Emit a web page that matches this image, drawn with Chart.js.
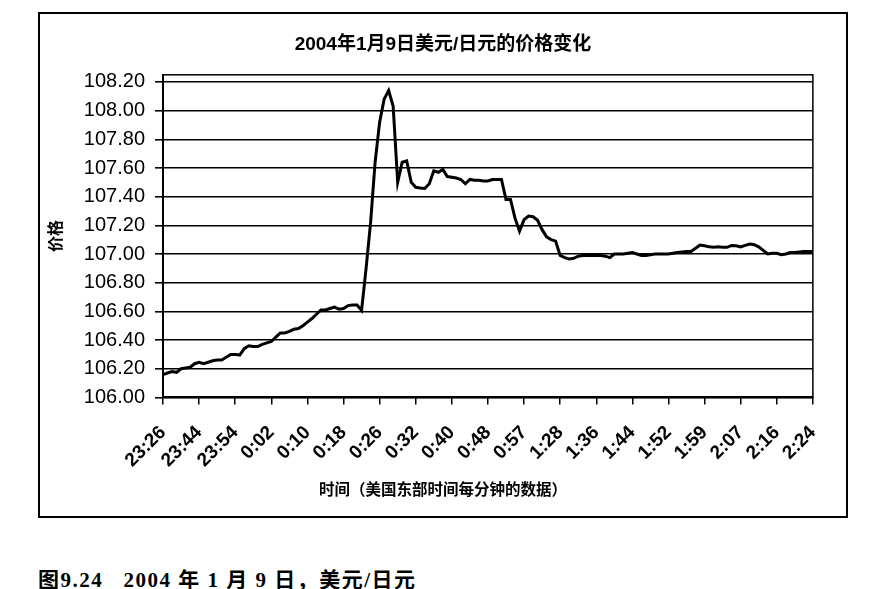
<!DOCTYPE html>
<html>
<head>
<meta charset="utf-8">
<script src="https://cdn.jsdelivr.net/npm/chart.js@4.4.1/dist/chart.umd.min.js"></script>
<style>
  body { margin: 0; background: #fff; }
  #box { position: absolute; left: 38px; top: 12px; width: 810px; height: 506px; box-sizing: border-box; border: 2px solid #000; }
  #caption { position: absolute; left: 38px; top: 563px; font: bold 21px "Liberation Serif", "Noto Sans CJK SC", serif; letter-spacing: 1.5px; color: #000; white-space: pre; }
</style>
</head>
<body>
<div id="box"><canvas id="myChartFx" width="806" height="502"></canvas></div>
<div id="caption">图9.24   2004 年 1 月 9 日，美元/日元</div>
<script>
// tick labels on the time axis, one every 8 minutes of data
const timeLabels = ['23:26', '23:44', '23:54', '0:02', '0:10', '0:18', '0:26', '0:32', '0:40', '0:48',
  '0:57', '1:28', '1:36', '1:44', '1:52', '1:59', '2:07', '2:16', '2:24'];
const pointsPerLabel = 8;
const priceTicks = [106.00, 106.20, 106.40, 106.60, 106.80, 107.00, 107.20, 107.40, 107.60, 107.80, 108.00, 108.20];

// USD/JPY, one value per minute
const prices = [
  106.16, 106.17, 106.18, 106.175, 106.20, 106.205, 106.21, 106.235, 106.245, 106.235,
  106.245, 106.255, 106.26, 106.26, 106.28, 106.30, 106.30, 106.295, 106.34, 106.36,
  106.355, 106.355, 106.37, 106.38, 106.39, 106.42, 106.45, 106.45, 106.46, 106.475,
  106.48, 106.50, 106.525, 106.55, 106.58, 106.61, 106.61, 106.62, 106.63, 106.615,
  106.62, 106.64, 106.645, 106.645, 106.607, 106.90, 107.22, 107.64, 107.92, 108.08,
  108.14, 108.03, 107.50, 107.64, 107.65, 107.50, 107.465, 107.46, 107.457, 107.49,
  107.58, 107.57, 107.59, 107.54, 107.535, 107.53, 107.52, 107.49, 107.52, 107.515,
  107.515, 107.51, 107.51, 107.52, 107.52, 107.52, 107.38, 107.38, 107.25, 107.16,
  107.24, 107.265, 107.26, 107.235, 107.17, 107.12, 107.10, 107.09, 106.99, 106.975,
  106.965, 106.97, 106.985, 106.99, 106.99, 106.99, 106.99, 106.99, 106.985, 106.975,
  107.00, 107.00, 107.00, 107.005, 107.01, 107.00, 106.99, 106.99, 106.995, 107.00,
  107.00, 107.00, 107.00, 107.005, 107.01, 107.015, 107.017, 107.017, 107.04, 107.063,
  107.058, 107.05, 107.047, 107.05, 107.048, 107.047, 107.06, 107.058, 107.05, 107.06,
  107.07, 107.065, 107.05, 107.025, 107.00, 107.005, 107.005, 106.995, 107.00, 107.01,
  107.01, 107.015, 107.017, 107.017, 107.017
];

const fontFamily = '"Liberation Sans", Arial, "Noto Sans CJK SC", sans-serif';
Chart.defaults.color = '#000';
Chart.defaults.font.family = fontFamily;

// plot area frame (top and right edges like the Excel plot area)
const frame = {
  id: 'frame',
  afterDatasetsDraw(chart) {
    const a = chart.chartArea;
    const c = chart.ctx;
    c.save();
    c.strokeStyle = '#000';
    c.lineWidth = 1.5;
    c.strokeRect(a.left, a.top, a.right - a.left, a.bottom - a.top);
    c.restore();
  }
};

const ctx = document.getElementById('myChartFx');
new Chart(ctx, {
  type: 'line',
  data: {
    labels: prices.map((p, i) => i),
    datasets: [{
      data: prices,
      borderColor: '#000',
      borderWidth: 3,
      pointRadius: 0,
      tension: 0,
      fill: false
    }]
  },
  options: {
    responsive: false,
    animation: false,
    layout: { padding: 0 },
    plugins: {
      legend: { display: false },
      tooltip: { enabled: false },
      title: {
        display: true,
        text: '2004年1月9日美元/日元的价格变化',
        font: { size: 19, weight: 'bold' },
        padding: { top: 19, bottom: 19 }
      },
      subtitle: {
        display: true,
        position: 'bottom',
        text: '时间（美国东部时间每分钟的数据）',
        font: { size: 15.5, weight: 'bold' },
        padding: { top: 14, bottom: 16 }
      }
    },
    scales: {
      x: {
        type: 'linear',
        min: 0,
        max: prices.length - 1,
        afterBuildTicks: (scale) => {
          scale.ticks = timeLabels.map((t, i) => ({ value: i * pointsPerLabel }));
        },
        afterFit: (scale) => { scale.height = 70; },
        grid: { drawOnChartArea: false, drawTicks: true, tickLength: 7, color: '#000', lineWidth: 1.5 },
        border: { display: true, color: '#000', width: 2 },
        ticks: {
          autoSkip: false,
          minRotation: 45,
          maxRotation: 45,
          padding: 17,
          font: { size: 19, weight: 'bold' },
          callback: (value) => timeLabels[Math.round(value / pointsPerLabel)]
        }
      },
      y: {
        min: 106,
        max: 108.25,
        afterBuildTicks: (scale) => {
          scale.ticks = priceTicks.map(v => ({ value: v }));
        },
        afterFit: (scale) => { scale.width = 123; },
        grid: { color: '#000', lineWidth: 1.6, tickLength: 8 },
        border: { display: true, color: '#000', width: 2 },
        ticks: {
          padding: 10,
          font: { size: 20 },
          callback: (value) => value.toFixed(2)
        },
        title: {
          display: true,
          text: '价格',
          font: { size: 16, weight: 'bold' },
          padding: { top: 7, bottom: 0 }
        }
      },
      // empty right-hand margin so the titles centre on the whole chart box
      margin: {
        type: 'linear',
        position: 'right',
        display: true,
        afterFit: (scale) => { scale.width = 33; },
        grid: { display: false },
        border: { display: false },
        ticks: { display: false }
      }
    }
  },
  plugins: [frame]
});
</script>
</body>
</html>
